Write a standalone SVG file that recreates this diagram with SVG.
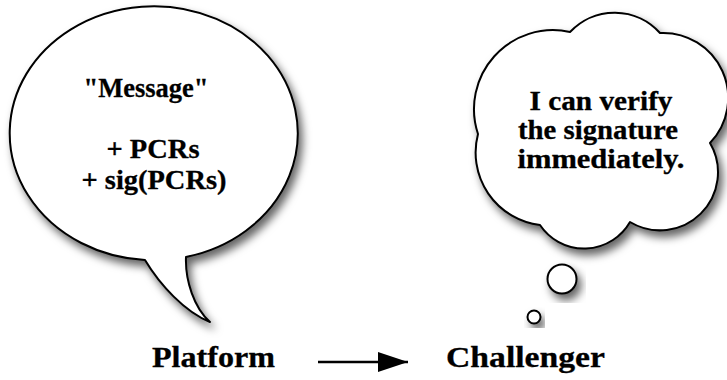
<svg xmlns="http://www.w3.org/2000/svg" width="727" height="380" viewBox="0 0 727 380">
  <defs>
    <filter id="shadow" x="-20%" y="-20%" width="150%" height="150%">
      <feDropShadow dx="4" dy="6" stdDeviation="4" flood-color="#000" flood-opacity="0.6"/>
    </filter>
    <marker id="head" viewBox="0 0 30 20" refX="30" refY="10" markerWidth="30" markerHeight="20" markerUnits="userSpaceOnUse" orient="auto">
      <path d="M0,0 L30,10 L0,20 Z" fill="#000"/>
    </marker>
  </defs>
  <style>
    .balloon { fill: #fff; stroke: #000; stroke-width: 2; stroke-linejoin: round; filter: url(#shadow); }
    .say { font-family: "Liberation Serif", "Times New Roman", serif; font-weight: bold; font-size: 27px; fill: #000; stroke: #000; stroke-width: 0.3; text-anchor: middle; }
    .name { font-family: "Liberation Serif", "Times New Roman", serif; font-weight: bold; font-size: 30px; fill: #000; stroke: #000; stroke-width: 0.3; }
    .link { stroke: #000; stroke-width: 2.5; fill: none; }
  </style>
  <rect width="727" height="380" fill="#fff"/>

  <!-- speech balloon of the platform -->
  <g id="platform-speech">
    <path class="balloon" d="M186,257 A144,127 0 1 0 145,260 C160,285 185,312 210,322 C194,308 185,280 186,257 Z"/>
    <text class="say" x="146" y="97" textLength="125" lengthAdjust="spacingAndGlyphs">"Message"</text>
    <text class="say" x="153" y="158" textLength="93" lengthAdjust="spacingAndGlyphs">+ PCRs</text>
    <text class="say" x="154" y="189" textLength="145" lengthAdjust="spacingAndGlyphs">+ sig(PCRs)</text>
  </g>

  <!-- thought cloud of the challenger -->
  <g id="challenger-thought">
    <path class="balloon" d="M478,134 A79,79 0 0 1 570,32 A61,61 0 0 1 660,33 A65,65 0 0 1 710,143 A58,58 0 0 1 630,222 A53,53 0 0 1 540,225 A73,73 0 0 1 478,134 Z"/>
    <circle class="balloon" cx="562" cy="279" r="14.5"/>
    <circle class="balloon" cx="534" cy="317" r="6.5"/>
    <text class="say" x="601" y="110" textLength="143" lengthAdjust="spacingAndGlyphs">I can verify</text>
    <text class="say" x="598" y="139" textLength="160" lengthAdjust="spacingAndGlyphs">the signature</text>
    <text class="say" x="601" y="168" textLength="167" lengthAdjust="spacingAndGlyphs">immediately.</text>
  </g>

  <g id="platform">
    <text class="name" x="152" y="367" textLength="123" lengthAdjust="spacingAndGlyphs">Platform</text>
  </g>

  <g id="challenger">
    <text class="name" x="446" y="367" textLength="159" lengthAdjust="spacingAndGlyphs">Challenger</text>
  </g>

  <g id="connectors">
    <line class="link" x1="318" y1="362" x2="408" y2="362" marker-end="url(#head)"/>
  </g>
</svg>
